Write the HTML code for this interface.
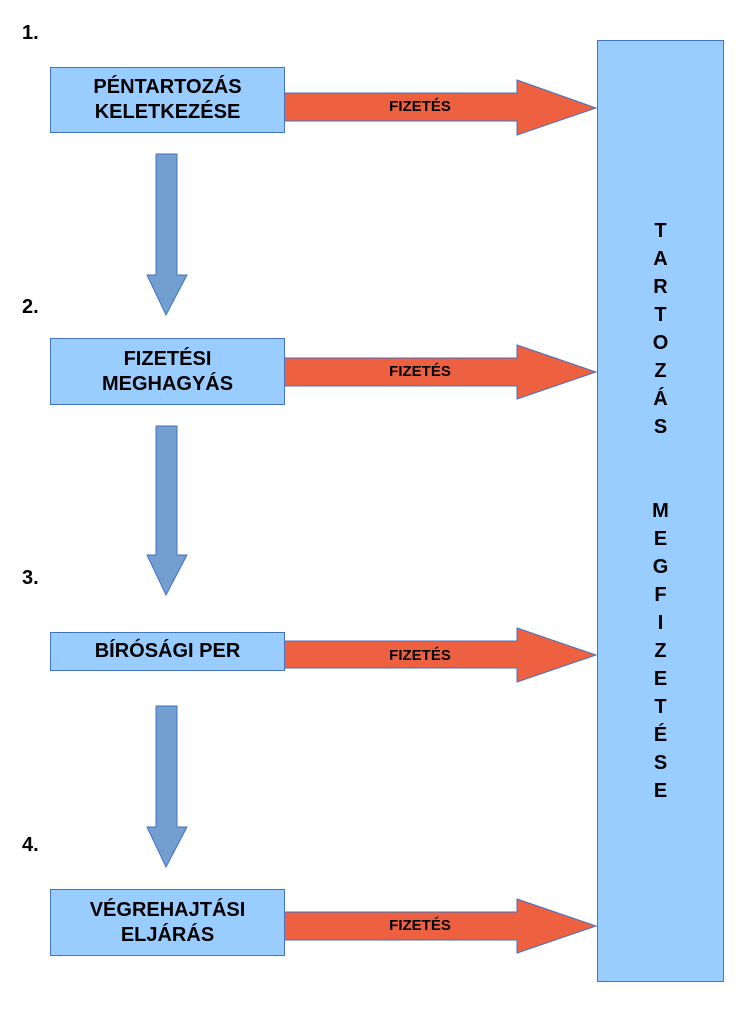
<!DOCTYPE html>
<html><head><meta charset="utf-8"><style>
body{margin:0;background:#fff;width:752px;height:1018px;position:relative;overflow:hidden;font-family:"Liberation Sans",sans-serif;font-weight:bold;color:#000}
.num{position:absolute;left:22px;font-size:20px}
.box{position:absolute;left:50px;width:233px;background:#99ccff;border:1px solid #4472c4;display:flex;align-items:center;justify-content:center;text-align:center;font-size:20px;line-height:25px}
.lbl{position:absolute;left:370px;width:100px;text-align:center;font-size:15px}
.big{position:absolute;left:597px;top:40px;width:125px;height:940px;background:#99ccff;border:1px solid #4472c4}
.v{position:absolute;left:597px;width:127px;text-align:center;font-size:20px;line-height:28px}
</style></head><body>
<div class="big"></div>
<svg width="752" height="1018" style="position:absolute;left:0;top:0">
<g fill="#ed6140" stroke="#4472c4" stroke-width="1">
<polygon points="283,93 517,93 517,80 596,108 517,135 517,121 283,121"/>
<polygon points="283,358 517,358 517,345 596,372 517,399 517,386 283,386"/>
<polygon points="283,641 517,641 517,628 596,655 517,682 517,668 283,668"/>
<polygon points="283,912 517,912 517,899 596,926 517,953 517,940 283,940"/>
</g>
<g fill="#729fcf" stroke="#4472c4" stroke-width="1">
<polygon points="156,154 177,154 177,275 187,275 166,315 147,275 156,275"/>
<polygon points="156,426 177,426 177,555 187,555 166,595 147,555 156,555"/>
<polygon points="156,706 177,706 177,827 187,827 166,867 147,827 156,827"/>
</g>
</svg>
<div class="num" style="top:22px">1.</div>
<div class="num" style="top:296px">2.</div>
<div class="num" style="top:567px">3.</div>
<div class="num" style="top:834px">4.</div>
<div class="box" style="top:67px;height:64px">PÉNTARTOZÁS<br>KELETKEZÉSE</div>
<div class="box" style="top:338px;height:65px">FIZETÉSI<br>MEGHAGYÁS</div>
<div class="box" style="top:632px;height:37px">BÍRÓSÁGI PER</div>
<div class="box" style="top:889px;height:65px">VÉGREHAJTÁSI<br>ELJÁRÁS</div>
<div class="lbl" style="top:98px">FIZETÉS</div>
<div class="lbl" style="top:363px">FIZETÉS</div>
<div class="lbl" style="top:647px">FIZETÉS</div>
<div class="lbl" style="top:917px">FIZETÉS</div>
<div class="v" style="top:217px">T<br>A<br>R<br>T<br>O<br>Z<br>Á<br>S<br><br><br>M<br>E<br>G<br>F<br>I<br>Z<br>E<br>T<br>É<br>S<br>E</div>
</body></html>
